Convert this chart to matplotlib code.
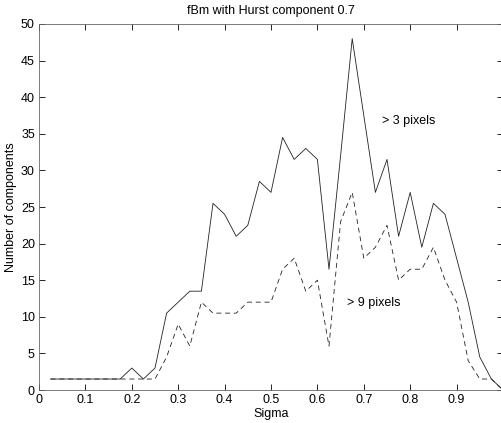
import numpy as np
import matplotlib.pyplot as plt

plt.rcParams['font.family'] = ['Liberation Sans', 'DejaVu Sans']

sigma = np.arange(1, 41) * 0.025

# counts of components larger than 3 pixels
over3 = [1.5, 1.5, 1.5, 1.5, 1.5, 1.5, 1.5, 3, 1.5, 3,
         10.5, 12, 13.5, 13.5, 25.5, 24, 21, 22.5, 28.5, 27,
         34.5, 31.5, 33, 31.5, 16.5, 32, 48, 37.5, 27, 31.5,
         21, 27, 19.5, 25.5, 24, 18, 12, 4.5, 1.5, 0]

# counts of components larger than 9 pixels
over9 = [1.5, 1.5, 1.5, 1.5, 1.5, 1.5, 1.5, 1.5, 1.5, 1.5,
         4.5, 9, 6, 12, 10.5, 10.5, 10.5, 12, 12, 12,
         16.5, 18, 13.5, 15, 6, 23, 27, 18, 19.5, 22.5,
         15, 16.5, 16.5, 19.5, 15, 12, 4, 1.5, 1.5, 0]

xticks = [0, 0.1, 0.2, 0.3, 0.4, 0.5, 0.6, 0.7, 0.8, 0.9]
yticks = [0, 5, 10, 15, 20, 25, 30, 35, 40, 45, 50]

fig = plt.figure(figsize=(5.02, 4.23), dpi=100)
ax = fig.add_axes([39 / 502, 33 / 423, 464 / 502, 366 / 423])

ax.plot(sigma, over3, color='#222222', lw=0.6)
ax.plot(sigma, over9, color='#222222', lw=0.6, dashes=(6, 4.5))

ax.set_xlim(0, 1)
ax.set_ylim(0, 50)
ax.set_xticks(xticks)
ax.set_xticklabels(['0'] + ['%g' % t for t in xticks[1:]])
ax.set_yticks(yticks)
ax.tick_params(direction='in', length=4, width=0.6, labelsize=9,
               top=True, right=True, pad=3)
for s in ax.spines.values():
    s.set_linewidth(0.6)
    s.set_color('#666666')
ax.spines['right'].set_visible(False)

ax.set_title('fBm with Hurst component 0.7', fontsize=9, pad=7)
ax.set_xlabel('Sigma', fontsize=9, labelpad=1)
ax.set_ylabel('Number of components', fontsize=9, labelpad=3)

ax.text(0.739, 36.8, '> 3 pixels', fontsize=9, va='center')
ax.text(0.663, 11.9, '> 9 pixels', fontsize=9, va='center')

fig.savefig('out.png', dpi=100)
